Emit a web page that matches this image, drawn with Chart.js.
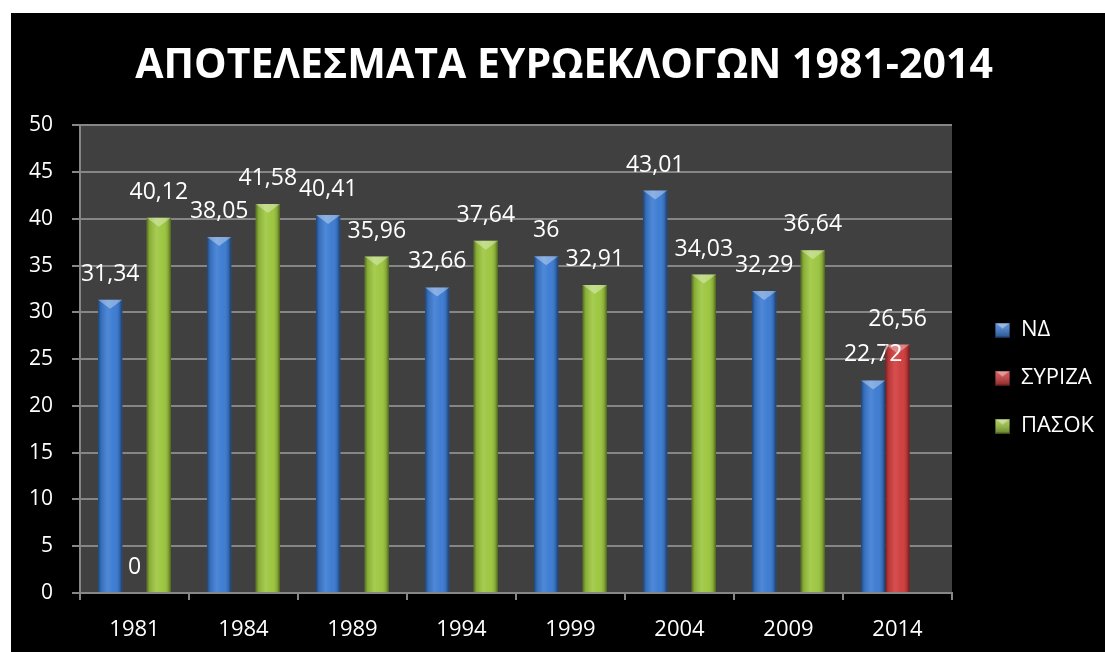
<!DOCTYPE html>
<html lang="el">
<head>
<meta charset="UTF-8">
<meta name="viewport" content="width=device-width, initial-scale=1.0">
<title>Αποτελέσματα Ευρωεκλογών 1981-2014</title>
<style>
  body { margin: 0; background: #fff; }
  /* black chart panel, offset like the original slide */
  .chart-box {
    position: absolute;
    left: 11px;
    top: 13px;
    width: 1094px;
    height: 639px;
    background: #000;
  }
</style>
</head>
<body>
<div class="chart-box"><canvas id="euroChart"></canvas></div>

<script src="https://cdn.jsdelivr.net/npm/chart.js"></script>
<script>
// data
const years = ['1981', '1984', '1989', '1994', '1999', '2004', '2009', '2014'];
const nd = [31.34, 38.05, 40.41, 32.66, 36, 43.01, 32.29, 22.72];
const syriza = [0, null, null, null, null, null, null, 26.56];
const pasok = [40.12, 41.58, 35.96, 37.64, 32.91, 34.03, 36.64, null];

const gridColor = '#868686';
Chart.defaults.font.family = '"Open Sans", sans-serif';
Chart.defaults.color = '#fff';

// small bevelled square for the legend
function legendMarker(color) {
  const c = document.createElement('canvas');
  c.width = 15;
  c.height = 15;
  const g = c.getContext('2d');
  g.fillStyle = color;
  g.fillRect(0, 0, 15, 15);
  const shade = g.createLinearGradient(0, 0, 0, 15);
  shade.addColorStop(0, 'rgba(255,255,255,0.15)');
  shade.addColorStop(1, 'rgba(0,0,0,0.35)');
  g.fillStyle = shade;
  g.fillRect(0, 0, 15, 15);
  g.beginPath();
  g.moveTo(0, 0);
  g.lineTo(15, 0);
  g.lineTo(7.5, 6);
  g.closePath();
  g.fillStyle = 'rgba(255,255,255,0.4)';
  g.fill();
  g.strokeStyle = 'rgba(0,0,0,0.4)';
  g.strokeRect(0.5, 0.5, 14, 14);
  return c;
}

// dark plot area
const plotBackground = {
  id: 'plotBackground',
  beforeDraw(chart) {
    const { ctx, chartArea: a } = chart;
    ctx.save();
    ctx.fillStyle = '#404040';
    ctx.fillRect(a.left, a.top, a.width, a.height);
    ctx.restore();
  }
};

// cylinder-ish shading, bevelled top and value labels
const barDecor = {
  id: 'barDecor',
  afterDatasetsDraw(chart) {
    const ctx = chart.ctx;
    ctx.save();
    chart.data.datasets.forEach((ds, i) => {
      const meta = chart.getDatasetMeta(i);
      meta.data.forEach((bar, j) => {
        const v = ds.data[j];
        if (v === null || v === undefined) return;
        const { x, y, base, width } = bar.getProps(['x', 'y', 'base', 'width'], true);
        const left = x - width / 2;
        const right = x + width / 2;
        if (base - y > 1) {
          const g = ctx.createLinearGradient(left, 0, right, 0);
          g.addColorStop(0, 'rgba(0,0,0,0.45)');
          g.addColorStop(0.12, 'rgba(0,0,0,0.12)');
          g.addColorStop(0.4, 'rgba(255,255,255,0.10)');
          g.addColorStop(0.65, 'rgba(255,255,255,0.02)');
          g.addColorStop(0.88, 'rgba(0,0,0,0.15)');
          g.addColorStop(1, 'rgba(0,0,0,0.5)');
          ctx.fillStyle = g;
          ctx.fillRect(left, y, width, base - y);

          const h = Math.min(9, base - y);
          ctx.beginPath();
          ctx.moveTo(left, y);
          ctx.lineTo(right, y);
          ctx.lineTo(x, y + h);
          ctx.closePath();
          ctx.fillStyle = 'rgba(255,255,255,0.35)';
          ctx.fill();
        }
        ctx.fillStyle = '#fff';
        ctx.font = '23px "Open Sans"';
        ctx.textAlign = 'center';
        ctx.textBaseline = 'alphabetic';
        ctx.fillText(String(v).replace('.', ','), x, y - 19);
      });
    });
    ctx.restore();
  }
};

// fixed legend column width and a small nudge to sit like the original
const legendPlace = {
  id: 'legendPlace',
  beforeLayout(chart) {
    const legend = chart.legend;
    if (legend && !legend._fixedWidth) {
      const fit = legend.fit;
      legend.fit = function () {
        fit.call(this);
        this.width = 153;
      };
      legend._fixedWidth = true;
    }
  },
  afterLayout(chart) {
    const l = chart.legend;
    l.left += 17;
    l.right += 17;
    l.top += 19;
    l.bottom += 19;
  }
};

new Chart(document.getElementById('euroChart'), {
  type: 'bar',
  data: {
    labels: years,
    datasets: [
      { label: 'ΝΔ', data: nd, backgroundColor: '#3b7bd2', pointStyle: legendMarker('#3b7bd2') },
      { label: 'ΣΥΡΙΖΑ', data: syriza, backgroundColor: '#d03c3c', pointStyle: legendMarker('#d03c3c') },
      { label: 'ΠΑΣΟΚ', data: pasok, backgroundColor: '#9cc63e', pointStyle: legendMarker('#9cc63e') }
    ]
  },
  options: {
    responsive: true,
    maintainAspectRatio: false,
    animation: false,
    datasets: {
      bar: { categoryPercentage: 0.67, barPercentage: 1, borderWidth: 0 }
    },
    layout: { padding: { left: 12, right: 0, top: 0, bottom: 0 } },
    scales: {
      x: {
        grid: {
          drawOnChartArea: false,
          drawTicks: true,
          tickLength: 7,
          color: gridColor,
          lineWidth: 2
        },
        border: { color: gridColor, width: 2 },
        ticks: { color: '#fff', font: { size: 22 }, padding: 17 },
        afterFit(scale) { scale.height = 59; }
      },
      y: {
        min: 0,
        max: 50,
        grid: { color: gridColor, lineWidth: 2, tickLength: 8 },
        border: { color: gridColor, width: 2 },
        ticks: { stepSize: 5, color: '#fff', font: { size: 21 }, padding: 19 },
        afterFit(scale) { scale.width = 57; }
      }
    },
    plugins: {
      title: {
        display: true,
        text: 'ΑΠΟΤΕΛΕΣΜΑΤΑ ΕΥΡΩΕΚΛΟΓΩΝ 1981-2014',
        color: '#fff',
        font: { size: 41, weight: 'bold', lineHeight: 1.2 },
        padding: { top: 29, bottom: 34 }
      },
      legend: {
        position: 'right',
        fullSize: false,
        labels: {
          color: '#fff',
          font: { size: 22 },
          boxWidth: 15,
          boxHeight: 15,
          padding: 26,
          usePointStyle: true
        }
      },
      tooltip: { enabled: false }
    }
  },
  plugins: [plotBackground, barDecor, legendPlace]
});
</script>
</body>
</html>
